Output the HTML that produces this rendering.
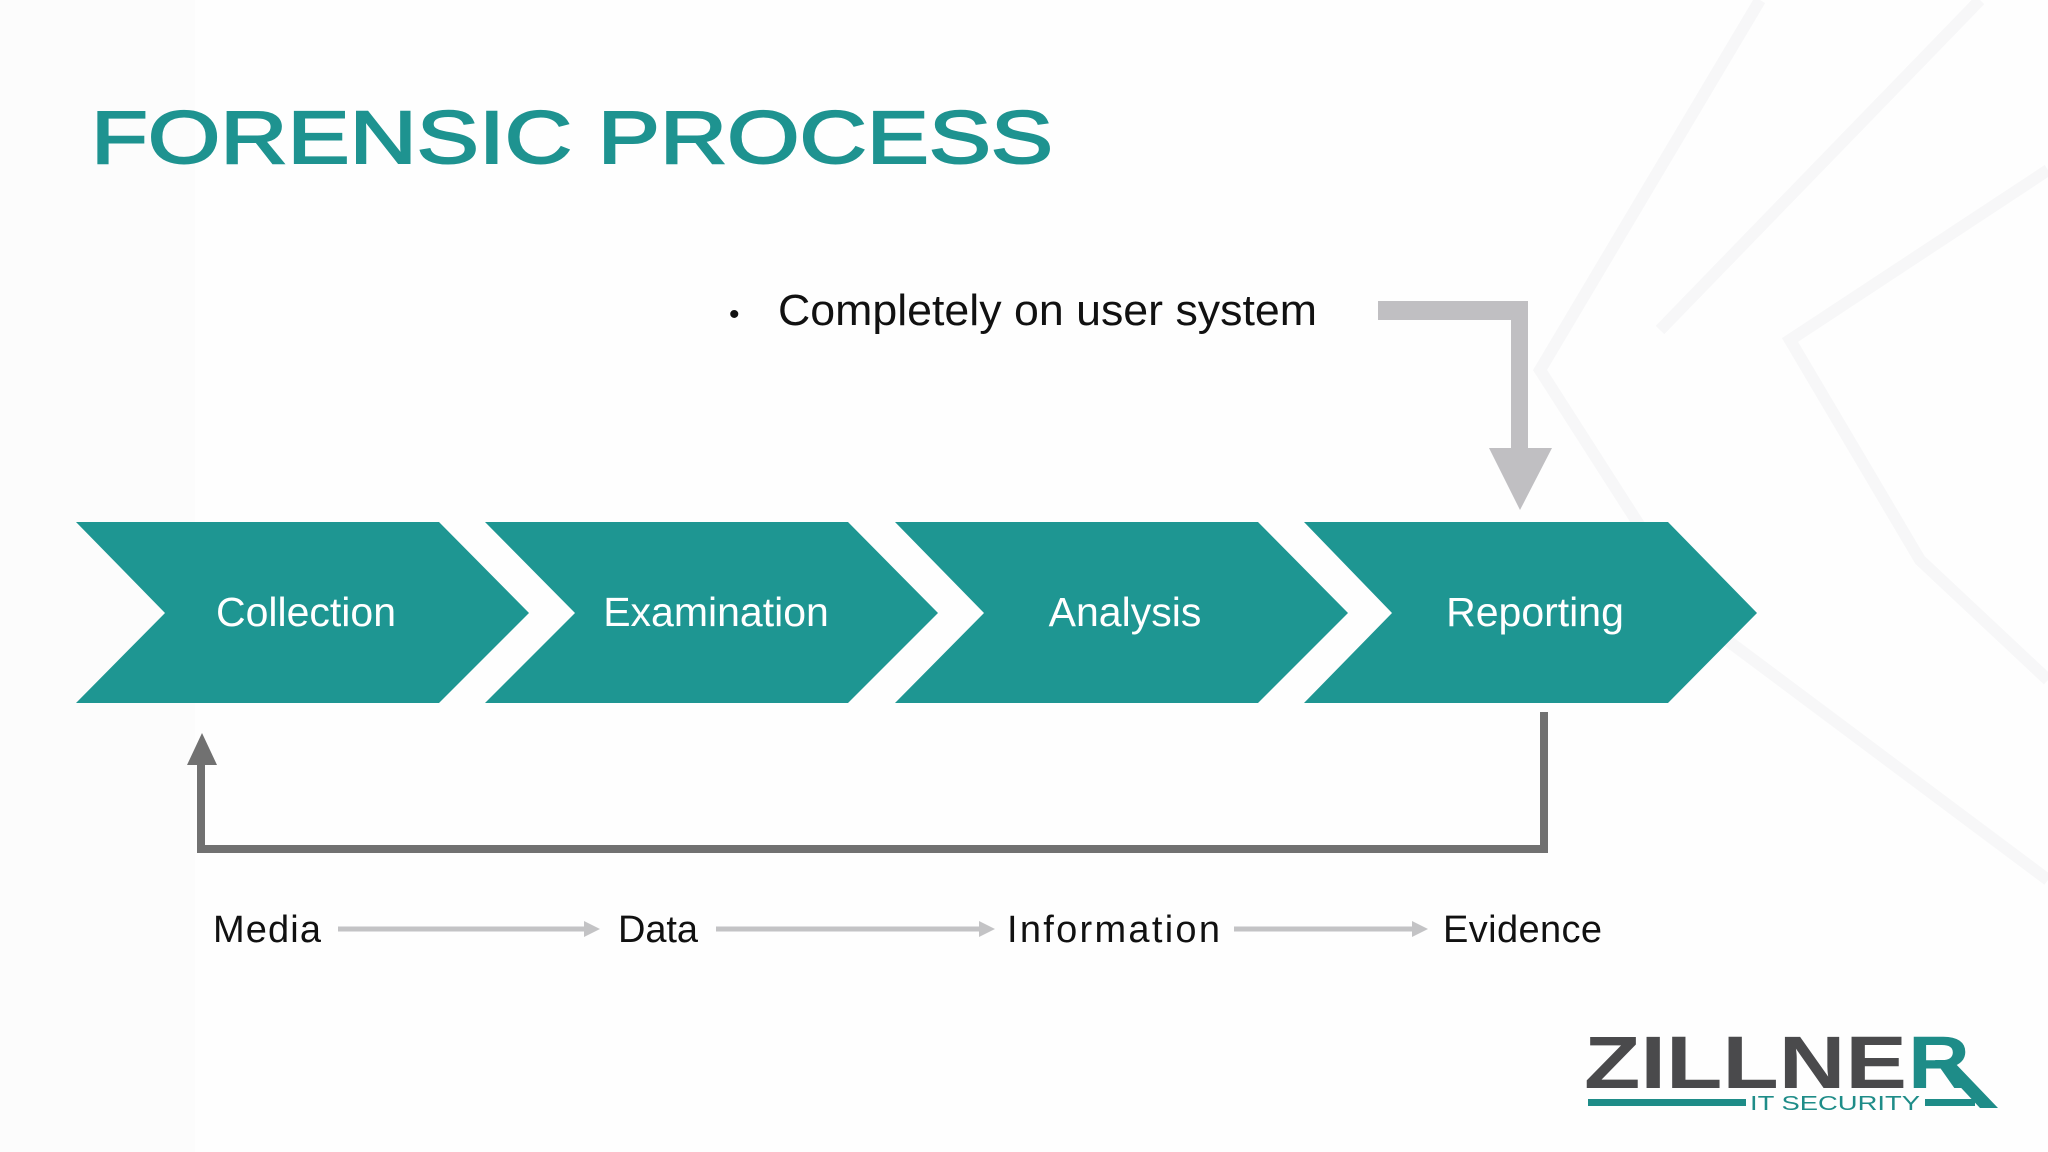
<!DOCTYPE html>
<html><head><meta charset="utf-8"><style>
html,body{margin:0;padding:0;background:#fff;}
svg{display:block;}
</style></head><body>
<svg width="2048" height="1152" viewBox="0 0 2048 1152" xmlns="http://www.w3.org/2000/svg">
<rect width="2048" height="1152" fill="#fefefe"/>
<rect x="0" y="0" width="195" height="1152" fill="#fcfcfc"/>
<g fill="none" stroke="#f7f7f8" stroke-width="12">
<polyline points="1760,0 1540,370 1700,620 2048,880"/>
<polyline points="2048,170 1790,340 1920,560 2048,680"/>
<polyline points="1980,0 1660,330"/>
</g>
<text x="91" y="163" font-family="Liberation Sans, sans-serif" font-size="74" fill="#1e9390" stroke="#1e9390" stroke-width="2" textLength="962" lengthAdjust="spacingAndGlyphs">FORENSIC PROCESS</text>

<text x="729" y="324" font-family="Liberation Sans, sans-serif" font-size="30" fill="#111">•</text>
<text x="778" y="325" font-family="Liberation Sans, sans-serif" font-size="44" fill="#111" textLength="539" lengthAdjust="spacingAndGlyphs">Completely on user system</text>

<g fill="#c0bfc2">
<rect x="1378" y="301" width="150" height="19"/>
<rect x="1511" y="301" width="17" height="155"/>
<polygon points="1489,448 1552,448 1520,510"/>
</g>

<g fill="#1e9692">
<polygon points="76,522 439,522 529,613 439,703 76,703 165,613"/>
<polygon points="485,522 848,522 938,613 848,703 485,703 575,613"/>
<polygon points="895,522 1258,522 1348,613 1258,703 895,703 984,613"/>
<polygon points="1304,522 1668,522 1757,613 1668,703 1304,703 1392,613"/>
</g>
<g font-family="Liberation Sans, sans-serif" font-size="41" fill="#fff" text-anchor="middle">
<text x="306" y="626">Collection</text>
<text x="716" y="626">Examination</text>
<text x="1125" y="626">Analysis</text>
<text x="1535" y="626">Reporting</text>
</g>

<polyline points="1544,712 1544,849 201,849 201,760" fill="none" stroke="#717171" stroke-width="8"/>
<polygon points="187,765 217,765 202,733" fill="#717171"/>

<g font-family="Liberation Sans, sans-serif" font-size="38" fill="#111" lengthAdjust="spacingAndGlyphs">
<text x="213" y="942" textLength="108">Media</text>
<text x="618" y="942" textLength="80">Data</text>
<text x="1007" y="942" textLength="213">Information</text>
<text x="1443" y="942" textLength="159">Evidence</text>
</g>
<g stroke="#c3c3c5" stroke-width="5">
<line x1="338" y1="929" x2="588" y2="929"/>
<line x1="716" y1="929" x2="983" y2="929"/>
<line x1="1234" y1="929" x2="1416" y2="929"/>
</g>
<g fill="#c3c3c5">
<polygon points="584,921 600,929 584,937"/>
<polygon points="979,921 995,929 979,937"/>
<polygon points="1412,921 1428,929 1412,937"/>
</g>

<text x="1584" y="1088" font-family="Liberation Sans, sans-serif" font-weight="bold" font-size="74" fill="#4a4a4c" textLength="323" lengthAdjust="spacingAndGlyphs">ZILLNE</text>
<text x="1908" y="1088" font-family="Liberation Sans, sans-serif" font-weight="bold" font-size="74" fill="#1e8c88" textLength="62" lengthAdjust="spacingAndGlyphs">R</text>
<polygon points="1935,1060 1952,1060 1998,1108 1980,1108" fill="#1e8c88"/>
<rect x="1588" y="1099" width="158" height="7" fill="#1e8c88"/>
<rect x="1925" y="1099" width="50" height="7" fill="#1e8c88"/>
<text x="1750" y="1110" font-family="Liberation Sans, sans-serif" font-size="20" fill="#1e8c88" textLength="170" lengthAdjust="spacingAndGlyphs">IT SECURITY</text>
</svg>
</body></html>
